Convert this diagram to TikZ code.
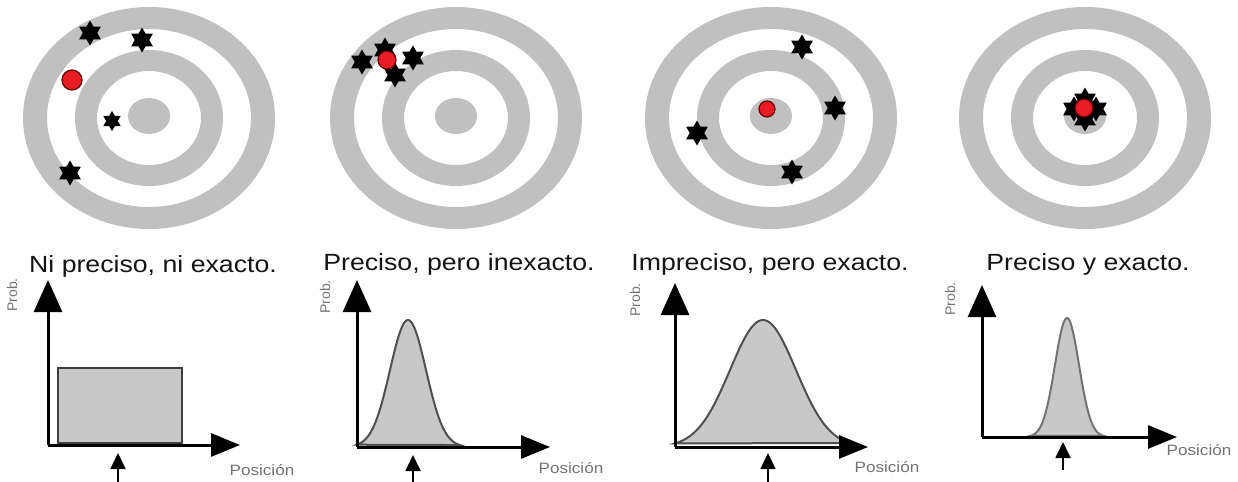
\documentclass[tikz,border=0pt]{standalone}
\usepackage{graphicx}
\usepackage{fontspec}
\setmainfont{Liberation Sans}
\usepackage{tikz}
\usetikzlibrary{shapes.geometric,arrows.meta}

\definecolor{ringgray}{RGB}{192,192,192}
\definecolor{areagray}{RGB}{200,200,200}
\definecolor{edgegray}{RGB}{80,80,80}
\definecolor{labelgray}{RGB}{115,115,115}
\definecolor{hitred}{RGB}{232,28,36}

\newcommand{\wide}[1]{\scalebox{1.14}[1]{#1}}

\begin{document}
\begin{tikzpicture}[x=0.5pt, y=-0.5pt,
  ring/.style={fill=ringgray, even odd rule},
  hit/.style={star, star points=6, star point ratio=1.73, fill=black, inner sep=0pt, minimum size=12.5pt},
  mean/.style={circle, fill=hitred, draw=black!60!red, line width=0.6pt, inner sep=0pt, minimum size=#1},
  title/.style={anchor=base, text=black!92, font=\fontsize{11.7}{14}\selectfont},
  problabel/.style={rotate=90, text=labelgray, font=\fontsize{7}{8}\selectfont},
  poslabel/.style={text=labelgray, font=\fontsize{7.5}{9}\selectfont},
  area/.style={fill=areagray, draw=edgegray, line width=1pt},
  yaxis/.style={line width=1.5pt, -{Triangle[length=16pt,width=14pt]}},
  xaxis/.style={line width=1.5pt, -{Triangle[length=14.5pt,width=11.5pt]}},
  pointer/.style={line width=0.9pt, -{Triangle[length=8pt,width=7.5pt]}}
]
\useasboundingbox (0,0) rectangle (1238,482);

% targets
\foreach \cx in {149,456,771,1085} {
  \fill[ring] (\cx,118) ellipse [x radius=126, y radius=111] (\cx,118) ellipse [x radius=102, y radius=89];
  \fill[ring] (\cx,118) ellipse [x radius=74, y radius=68] (\cx,118) ellipse [x radius=52, y radius=47];
  \fill[ringgray] (\cx,116) ellipse [x radius=21, y radius=18];
}

% hits
\foreach \p [count=\i] in {(90,33),(142,40),(70,173)}
  \node[hit] (hitA\i) at \p {};
\node[hit, minimum size=10pt] (hitA4) at (112,121) {};
\node[mean=10pt] (meanA) at (72,80) {};

\foreach \p [count=\i] in {(362,62),(385,50),(413,58),(395,75)}
  \node[hit] (hitB\i) at \p {};
\node[mean=9pt] (meanB) at (387,60) {};

\foreach \p [count=\i] in {(802,47),(835,108),(792,172),(697,133)}
  \node[hit] (hitC\i) at \p {};
\node[mean=8pt] (meanC) at (767,109) {};

\foreach \p [count=\i] in {(1074,109),(1096,109),(1085,100),(1085,119)}
  \node[hit] (hitD\i) at \p {};
\node[mean=9pt] (meanD) at (1084,108) {};

% titles
\node[title] (titleA) at (153,272) {\wide{Ni preciso, ni exacto.}};
\node[title] (titleB) at (459,270) {\wide{Preciso, pero inexacto.}};
\node[title] (titleC) at (770,270) {\wide{Impreciso, pero exacto.}};
\node[title] (titleD) at (1088,270) {\wide{Preciso y exacto.}};

% charts
\coordinate (oA) at (48,445);  \coordinate (yA) at (48,280);  \coordinate (xA) at (240,445);
\coordinate (oB) at (357,447); \coordinate (yB) at (357,280); \coordinate (xB) at (550,447);
\coordinate (oC) at (675,447); \coordinate (yC) at (675,283); \coordinate (xC) at (868,447);
\coordinate (oD) at (982,437); \coordinate (yD) at (982,285); \coordinate (xD) at (1177,437);

\draw[area, draw=black!75, line width=1.2pt] (58,368) rectangle (182,443);
\draw[area] plot[domain=357:460, samples=80] (\x, {447-127*exp(-((\x-408)/18)^2/2)}) -- cycle;
\draw[area] plot[domain=675:850, samples=80] (\x, {447-127*exp(-((\x-763)/33)^2/2)}) -- cycle;
\draw[area, draw=edgegray!80] plot[domain=1030:1104, samples=80] (\x, {437-119*exp(-((\x-1067)/12)^2/2)}) -- cycle;

\foreach \k in {A,B,C,D} {
  \draw[yaxis] (o\k) -- (y\k);
  \draw[xaxis] (o\k) -- (x\k);
}

\node[problabel] (probA) at (12,295) {Prob.};
\node[problabel] (probB) at (325,297) {Prob.};
\node[problabel] (probC) at (635,300) {Prob.};
\node[problabel] (probD) at (950,299) {Prob.};

\node[poslabel] (posA) at (262,470) {\wide{Posición}};
\node[poslabel] (posB) at (571,468) {\wide{Posición}};
\node[poslabel] (posC) at (887,467) {\wide{Posición}};
\node[poslabel] (posD) at (1199,450) {\wide{Posición}};

% true value
\coordinate (tA) at (118,482);  \coordinate (mA) at (118,453);
\coordinate (tB) at (413,482);  \coordinate (mB) at (413,455);
\coordinate (tC) at (768,482);  \coordinate (mC) at (768,453);
\coordinate (tD) at (1063,470); \coordinate (mD) at (1063,442);
\foreach \k in {A,B,C,D}
  \draw[pointer] (t\k) -- (m\k);
\end{tikzpicture}
\end{document}
